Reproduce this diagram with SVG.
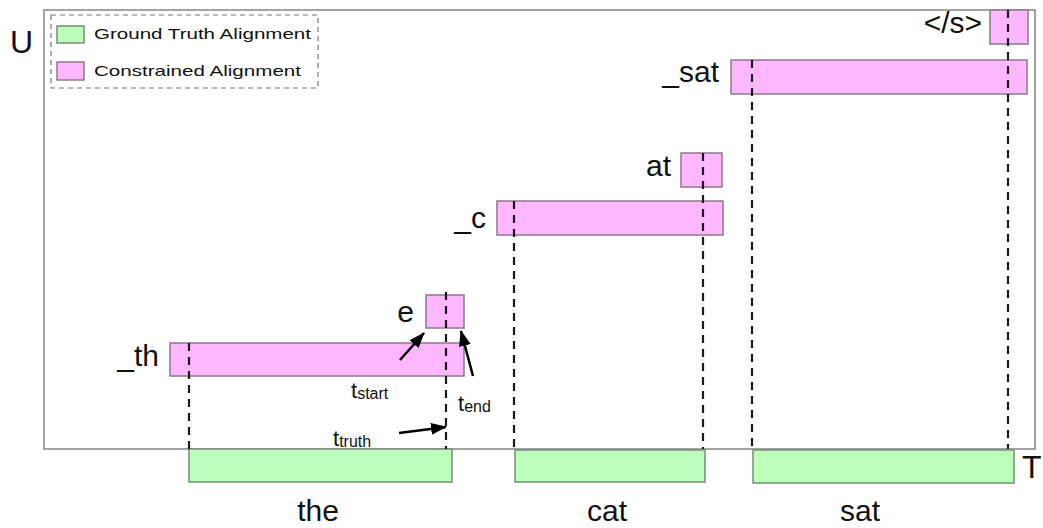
<svg xmlns="http://www.w3.org/2000/svg" width="1043" height="528" viewBox="0 0 1043 528">
  <style>
    text { font-family: "Liberation Sans", Arial, sans-serif; fill: #111; }
    .lbl { font-size: 30px; }
    .ax { font-size: 32px; }
    .leg { font-size: 15px; }
    .ann { font-size: 22px; }
    .sub { font-size: 16px; }
    .pink { fill: #ffb8ff; stroke: #8a7a8a; stroke-width: 1.5; }
    .green { fill: #bbffbb; stroke: #7a8a7a; stroke-width: 1.5; }
    .frame { fill: none; stroke: #8c8c8c; stroke-width: 1.6; }
    .dash { stroke: #1a1a1a; stroke-width: 2.2; stroke-dasharray: 8 6; fill: none; }
    .arrow { stroke: #000; stroke-width: 2.5; fill: none; marker-end: url(#ah); }
  </style>
  <defs>
    <marker id="ah" viewBox="0 0 16 12" refX="15" refY="6" markerWidth="16" markerHeight="12" markerUnits="userSpaceOnUse" orient="auto">
      <path d="M0,0 L16,6 L0,12 z" fill="#000"/>
    </marker>
  </defs>
  <rect width="1043" height="528" fill="#fff"/>

  <g id="frame">
    <rect class="frame" x="44" y="10" width="991" height="439"/>
  </g>

  <g id="legend">
    <rect x="51" y="15" width="267" height="73" fill="none" stroke="#777" stroke-width="1.2" stroke-dasharray="5 4"/>
    <rect class="green" x="57" y="26" width="27" height="17"/>
    <text class="leg" x="94" y="39" textLength="217" lengthAdjust="spacingAndGlyphs">Ground Truth Alignment</text>
    <rect class="pink" x="57" y="62" width="27" height="18"/>
    <text class="leg" x="94" y="76" textLength="207" lengthAdjust="spacingAndGlyphs">Constrained Alignment</text>
  </g>

  <g id="axis-labels">
    <text class="ax" x="10" y="53">U</text>
    <text class="ax" x="1022" y="478">T</text>
  </g>

  <g id="tok-th">
    <rect class="pink" x="170" y="343" width="294" height="33"/>
    <text class="lbl" x="159" y="366" text-anchor="end">_th</text>
  </g>
  <g id="tok-e">
    <rect class="pink" x="426" y="295" width="38" height="33"/>
    <text class="lbl" x="414" y="322" text-anchor="end">e</text>
  </g>
  <g id="tok-c">
    <rect class="pink" x="497" y="201" width="226" height="34"/>
    <text class="lbl" x="486" y="228" text-anchor="end">_c</text>
  </g>
  <g id="tok-at">
    <rect class="pink" x="681" y="153" width="41" height="34"/>
    <text class="lbl" x="671" y="176" text-anchor="end">at</text>
  </g>
  <g id="tok-sat">
    <rect class="pink" x="731" y="60" width="296" height="34"/>
    <text class="lbl" x="719" y="82" text-anchor="end">_sat</text>
  </g>
  <g id="tok-eos">
    <rect class="pink" x="990" y="10" width="38" height="34"/>
    <text class="lbl" x="982" y="33" text-anchor="end">&lt;/s&gt;</text>
  </g>

  <g id="gt-the">
    <rect class="green" x="189" y="449" width="263" height="33"/>
    <text class="lbl" x="318" y="521" text-anchor="middle">the</text>
  </g>
  <g id="gt-cat">
    <rect class="green" x="515" y="450" width="190" height="32"/>
    <text class="lbl" x="607" y="521" text-anchor="middle">cat</text>
  </g>
  <g id="gt-sat">
    <rect class="green" x="753" y="450" width="261" height="33"/>
    <text class="lbl" x="860" y="521" text-anchor="middle">sat</text>
  </g>

  <g id="connectors">
    <line class="dash" x1="189" y1="343" x2="189" y2="449"/>
    <line class="dash" x1="446" y1="292" x2="446" y2="449"/>
    <line class="dash" x1="514" y1="201" x2="514" y2="449"/>
    <line class="dash" x1="703" y1="153" x2="703" y2="449"/>
    <line class="dash" x1="752" y1="60" x2="752" y2="449"/>
    <line class="dash" x1="1008" y1="10" x2="1008" y2="449"/>
    <line class="arrow" x1="400" y1="360" x2="424" y2="333"/>
    <line class="arrow" x1="473" y1="376" x2="461" y2="331"/>
    <line class="arrow" x1="399" y1="433" x2="446" y2="427"/>
  </g>

  <g id="annotations">
    <text class="ann" x="351" y="398">t<tspan class="sub" dy="1">start</tspan></text>
    <text class="ann" x="458" y="411">t<tspan class="sub" dy="1">end</tspan></text>
    <text class="ann" x="333" y="446">t<tspan class="sub" dy="1">truth</tspan></text>
  </g>
</svg>
